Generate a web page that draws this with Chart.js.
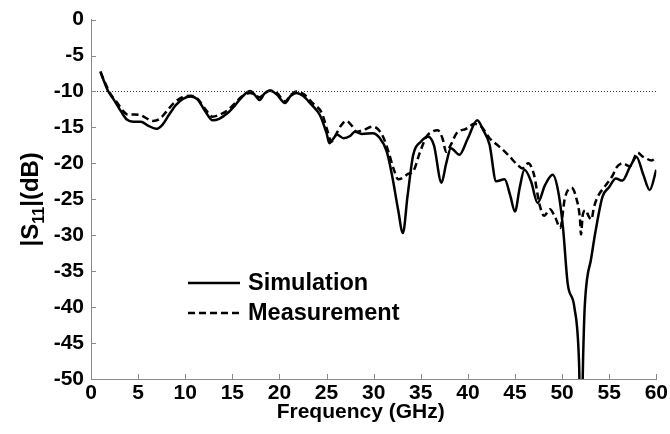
<!DOCTYPE html>
<html>
<head>
<meta charset="utf-8">
<script src="https://cdn.jsdelivr.net/npm/chart.js@4/dist/chart.umd.min.js"></script>
<style>
  html, body { margin: 0; padding: 0; background: #ffffff; }
  #wrap { width: 670px; height: 434px; position: relative; }
</style>
</head>
<body>
<div id="wrap"><canvas id="c"></canvas></div>
<script>
// Simulated return loss |S11| (dB) against frequency (GHz)
const simFreq = [1.0, 1.3, 1.8, 2.5, 3.2, 3.8, 4.5, 5.3, 6.0, 6.9, 7.6, 8.3, 9.0, 9.8, 10.6, 11.3, 12.0, 12.9, 13.6, 14.5,
  15.3, 16.0, 16.9, 17.4, 17.9, 18.4, 19.0, 19.7, 20.6, 21.2, 21.8, 22.5, 23.3, 24.3, 25.0, 25.3, 25.7, 26.1, 26.8, 27.5,
  28.0, 28.8, 29.9, 30.6, 31.4, 32.0, 32.6, 33.1, 33.6, 34.2, 35.0, 35.8, 36.4, 37.2, 37.7, 38.2, 39.1, 40.0, 41.0, 41.6,
  42.3, 43.0, 43.9, 44.5, 45.0, 45.5, 46.0, 46.7, 47.4, 48.2, 49.0, 49.6, 50.1, 50.6, 51.3, 51.8, 52.0, 52.25, 52.4, 53.1,
  53.8, 54.3, 55.0, 55.7, 56.4, 57.2, 57.9, 58.6, 59.3, 60.0];
const simDb = [-7.2, -8.3, -9.9, -11.3, -12.8, -13.9, -14.2, -14.2, -14.7, -15.2, -14.6, -13.2, -11.9, -11.0, -10.7, -11.1, -12.5, -14.0, -13.8, -13.0,
  -11.9, -10.8, -9.95, -10.5, -11.2, -10.3, -9.85, -10.4, -11.6, -10.6, -10.2, -10.6, -11.7, -13.3, -15.8, -17.2, -16.6, -16.0, -16.5, -16.2,
  -15.6, -15.9, -15.8, -16.4, -18.4, -22.0, -26.5, -29.7, -24.5, -18.8, -17.0, -16.3, -17.5, -22.7, -20.0, -17.9, -18.8, -16.5, -14.0, -15.3,
  -17.4, -22.5, -22.2, -24.5, -26.7, -23.4, -20.9, -22.5, -25.5, -23.0, -21.6, -24.0, -29.0, -36.8, -40.0, -47.8, -60.0, -46.0, -40.0, -33.1,
  -27.6, -24.6, -23.3, -22.1, -22.4, -20.5, -19.1, -21.5, -23.7, -20.9];

// Measured return loss |S11| (dB) against frequency (GHz)
const measFreq = [1.0, 1.5, 2.0, 2.8, 3.4, 3.9, 4.6, 5.3, 6.0, 6.6, 7.3, 8.0, 8.8, 9.7, 10.6, 11.3, 12.1, 12.9, 13.7, 14.5,
  15.3, 16.0, 16.9, 17.9, 18.5, 19.0, 19.8, 20.6, 21.2, 21.8, 22.6, 23.5, 24.5, 25.1, 25.5, 26.0, 26.5, 27.1, 27.7, 28.2,
  29.0, 29.9, 30.5, 31.0, 31.6, 32.1, 32.6, 33.1, 33.6, 34.2, 34.9, 35.6, 36.2, 36.8, 37.3, 37.7, 38.2, 38.8, 39.8, 40.7,
  41.5, 42.3, 43.0, 43.7, 44.4, 45.1, 45.8, 46.4, 47.0, 47.6, 48.1, 48.7, 49.3, 49.8, 50.3, 51.0, 51.5, 51.9, 52.0, 52.2,
  52.5, 52.8, 53.1, 53.4, 53.8, 54.6, 55.4, 55.7, 56.4, 57.2, 58.0, 58.5, 58.9, 59.5, 60.0];
const measDb = [-7.3, -8.8, -10.2, -11.6, -12.7, -13.2, -13.2, -13.3, -13.8, -14.1, -13.8, -12.8, -11.6, -10.8, -10.6, -11.0, -12.4, -13.5, -13.2, -12.6,
  -11.6, -10.7, -10.2, -10.8, -10.2, -9.9, -10.3, -11.4, -10.5, -10.0, -10.4, -11.6, -13.0, -15.5, -17.0, -16.0, -14.8, -14.1, -14.8, -15.6,
  -15.3, -14.9, -15.3, -16.3, -18.5, -20.7, -22.2, -22.0, -21.5, -21.1, -18.5, -16.3, -15.6, -15.4, -16.5, -18.4, -17.4, -15.8, -15.2, -14.5,
  -15.0, -16.5, -17.3, -18.1, -19.0, -20.0, -20.7, -20.0, -21.5, -25.7, -27.3, -26.4, -27.6, -29.0, -24.8, -23.4, -24.8, -27.8, -29.9, -27.1,
  -26.5, -27.3, -27.8, -26.0, -24.6, -23.1, -21.6, -20.7, -20.0, -20.4, -18.5, -19.0, -19.3, -19.6, -19.1];

// -10 dB matching threshold, drawn across the full band
const refLevel = -10;
const freqRange = [0, 60];
const dbRange = [-50, 0];
const tickStep = 5;

const FONT = '"Liberation Sans", Arial, Helvetica, sans-serif';
const AXIS_GREY = '#8a8a8a';

function toPoints(xs, ys) {
  return xs.map((x, i) => ({ x: x, y: ys[i] }));
}

// Inward tick marks, axis titles and the in-plot legend
const decorations = {
  id: 'decorations',
  afterDraw(chart) {
    const ctx = chart.ctx;
    const area = chart.chartArea;
    const xs = chart.scales.x;
    const ys = chart.scales.y;

    ctx.save();
    ctx.strokeStyle = AXIS_GREY;
    ctx.lineWidth = 1;
    ctx.beginPath();
    xs.ticks.forEach(t => {
      const px = Math.round(xs.getPixelForValue(t.value)) + 0.5;
      ctx.moveTo(px, area.bottom);
      ctx.lineTo(px, area.bottom - 5);
    });
    ys.ticks.forEach(t => {
      const py = Math.round(ys.getPixelForValue(t.value)) + 0.5;
      ctx.moveTo(area.left, py);
      ctx.lineTo(area.left + 5, py);
    });
    ctx.stroke();
    ctx.restore();

    // x-axis title
    ctx.save();
    ctx.fillStyle = '#000';
    ctx.font = 'bold 21px ' + FONT;
    ctx.textAlign = 'center';
    ctx.textBaseline = 'middle';
    ctx.fillText('Frequency (GHz)', (area.left + area.right) / 2 - 13, 412);
    ctx.restore();

    // y-axis title with subscript, rotated
    ctx.save();
    ctx.fillStyle = '#000';
    ctx.translate(30, (area.top + area.bottom) / 2);
    ctx.rotate(-Math.PI / 2);
    ctx.textBaseline = 'alphabetic';
    const big = 'bold 24px ' + FONT;
    const small = 'bold 16px ' + FONT;
    const parts = [['|S', big, 0], ['11', small, 6], ['|(dB)', big, 0]];
    let total = 0;
    parts.forEach(p => { ctx.font = p[1]; total += ctx.measureText(p[0]).width; });
    let cx = -total / 2;
    parts.forEach(p => {
      ctx.font = p[1];
      ctx.fillText(p[0], cx, 8 + p[2]);
      cx += ctx.measureText(p[0]).width;
    });
    ctx.restore();

    // legend
    ctx.save();
    const rows = [chart.data.datasets[1], chart.data.datasets[2]];
    const lx0 = 188, lx1 = 240, tx = 248;
    const rowY = [283, 313];
    rows.forEach((ds, i) => {
      ctx.strokeStyle = ds.borderColor;
      ctx.lineWidth = ds.borderWidth;
      ctx.setLineDash(ds.borderDash || []);
      ctx.beginPath();
      ctx.moveTo(lx0, rowY[i]);
      ctx.lineTo(lx1, rowY[i]);
      ctx.stroke();
      ctx.setLineDash([]);
      ctx.fillStyle = '#000';
      ctx.font = 'bold 23.5px ' + FONT;
      ctx.textAlign = 'left';
      ctx.textBaseline = 'middle';
      ctx.fillText(ds.label, tx, rowY[i] + 1);
    });
    ctx.restore();
  }
};

new Chart(document.getElementById('c'), {
  type: 'line',
  data: {
    datasets: [
      {
        label: 'threshold',
        data: toPoints(freqRange, [refLevel, refLevel]),
        borderColor: '#333',
        borderWidth: 1,
        borderDash: [1, 2],
        pointRadius: 0,
        tension: 0
      },
      {
        label: 'Simulation',
        data: toPoints(simFreq, simDb),
        borderColor: '#000',
        borderWidth: 2.5,
        pointRadius: 0,
        cubicInterpolationMode: 'monotone'
      },
      {
        label: 'Measurement',
        data: toPoints(measFreq, measDb),
        borderColor: '#000',
        borderWidth: 2.5,
        borderDash: [7, 4],
        pointRadius: 0,
        cubicInterpolationMode: 'monotone'
      }
    ]
  },
  options: {
    responsive: true,
    maintainAspectRatio: false,
    animation: false,
    devicePixelRatio: 1,
    layout: { padding: { left: 0, right: 13, top: 17, bottom: 0 } },
    plugins: {
      legend: { display: false },
      tooltip: { enabled: false }
    },
    scales: {
      x: {
        type: 'linear',
        min: freqRange[0],
        max: freqRange[1],
        grid: { display: false, drawTicks: false },
        border: { display: true, color: AXIS_GREY, width: 1 },
        ticks: {
          stepSize: tickStep,
          color: '#000',
          padding: 2,
          maxRotation: 0,
          font: { family: FONT, size: 21, weight: 'bold' }
        },
        afterFit(s) { s.height = 55; }
      },
      y: {
        min: dbRange[0],
        max: dbRange[1],
        grid: { display: false, drawTicks: false },
        border: { display: true, color: AXIS_GREY, width: 1 },
        ticks: {
          stepSize: tickStep,
          color: '#000',
          padding: 7,
          font: { family: FONT, size: 21, weight: 'bold' }
        },
        afterFit(s) { s.width = 91; }
      }
    }
  },
  plugins: [decorations]
});
</script>
</body>
</html>
